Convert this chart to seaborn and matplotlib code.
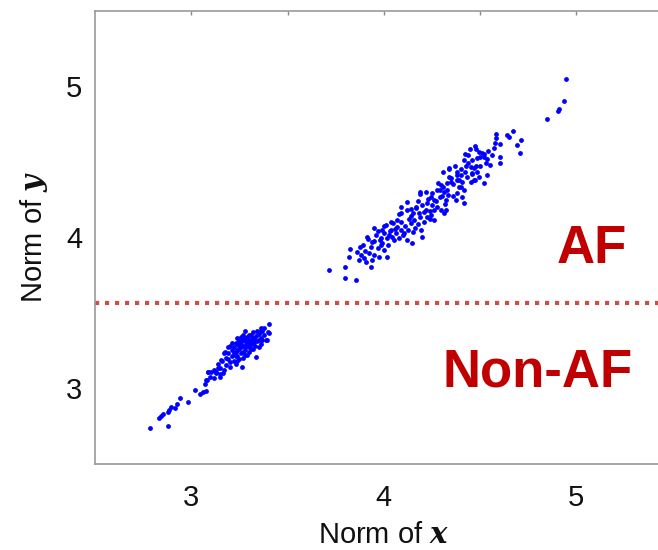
import matplotlib
matplotlib.use("Agg")
import matplotlib.pyplot as plt
import seaborn as sns
import pandas as pd

# Non-AF cluster (norm of x, norm of y)
non_af_x = [2.788, 2.881, 2.834, 2.845, 2.855, 2.881, 2.886, 2.896, 2.917, 2.927, 2.943, 2.984,
            3.021, 3.047, 3.062, 3.078, 3.073, 3.083, 3.088, 3.104, 3.087, 3.095, 3.116, 3.078,
            3.130, 3.147, 3.167, 3.138, 3.337, 3.264, 3.173, 3.155, 3.406, 3.363, 3.406, 3.392,
            3.13, 3.15, 3.14, 3.17, 3.16, 3.18, 3.19, 3.20, 3.21, 3.19, 3.22, 3.23, 3.22, 3.24,
            3.25, 3.24, 3.26, 3.27, 3.26, 3.28, 3.29, 3.28, 3.30, 3.31, 3.30, 3.32, 3.33, 3.32,
            3.34, 3.35, 3.36, 3.37, 3.38, 3.36, 3.39, 3.40, 3.25, 3.23, 3.27, 3.29, 3.31, 3.33,
            3.21, 3.20, 3.26, 3.28, 3.30, 3.24, 3.26, 3.27, 3.29, 3.25, 3.28, 3.31, 3.33, 3.34,
            3.23, 3.22, 3.30, 3.32, 3.35, 3.24, 3.27, 3.29, 3.31, 3.26, 3.28, 3.30, 3.25, 3.32,
            3.18, 3.17, 3.20, 3.35, 3.37, 3.27, 3.34, 3.38, 3.12, 3.15,
            3.21, 3.24, 3.28, 3.32, 3.36, 3.19, 3.23]
non_af_y = [2.735, 2.748, 2.801, 2.815, 2.828, 2.841, 2.854, 2.874, 2.868, 2.894, 2.934, 2.907,
            2.987, 2.960, 2.974, 2.980, 3.026, 3.053, 3.106, 3.106, 3.108, 3.075, 3.068, 3.053,
            3.108, 3.075, 3.097, 3.130, 3.207, 3.141, 3.240, 3.185, 3.422, 3.377, 3.362, 3.318,
            3.10, 3.13, 3.16, 3.12, 3.18, 3.15, 3.19, 3.14, 3.21, 3.23, 3.18, 3.24, 3.27, 3.21,
            3.26, 3.29, 3.23, 3.28, 3.31, 3.25, 3.30, 3.33, 3.27, 3.32, 3.35, 3.29, 3.34, 3.37,
            3.31, 3.36, 3.33, 3.38, 3.35, 3.40, 3.32, 3.37, 3.19, 3.30, 3.35, 3.22, 3.26, 3.28,
            3.25, 3.28, 3.34, 3.38, 3.30, 3.25, 3.27, 3.24, 3.28, 3.31, 3.31, 3.35, 3.31, 3.35,
            3.21, 3.23, 3.24, 3.33, 3.32, 3.33, 3.32, 3.34, 3.29, 3.29, 3.28, 3.32, 3.28, 3.30,
            3.20, 3.23, 3.17, 3.27, 3.32, 3.20, 3.38, 3.40, 3.12, 3.09,
            3.30, 3.18, 3.22, 3.26, 3.29, 3.27, 3.16]

# AF cluster (norm of x, norm of y)
af_x = [4.947, 4.935, 4.912, 4.907, 4.848, 4.671, 4.641, 4.649, 4.713, 4.693, 4.710,
        4.585, 4.585, 4.603, 4.572, 4.606, 4.606, 4.475, 4.447, 4.494, 4.511, 4.523,
        4.485, 4.537, 4.551, 4.534, 4.523, 4.416, 4.425, 4.451, 4.468, 4.459, 4.485,
        4.494, 4.451, 4.472, 4.382, 4.399, 4.378, 4.408, 4.390, 4.309, 4.338, 4.347,
        4.330, 4.416, 4.382, 4.408, 4.373, 4.416, 4.295, 4.278, 4.312, 4.292, 4.333,
        4.321, 4.188, 4.244, 4.261, 4.226, 4.252, 4.278, 4.295, 4.321, 4.312, 4.119,
        4.092, 4.140, 4.166, 4.183, 4.209, 4.188, 4.226, 4.244, 4.261, 4.157, 4.140,
        4.178, 4.195, 4.200, 4.092, 4.071, 4.088, 4.105, 4.062, 4.045, 4.080, 4.123,
        4.149, 4.154, 4.126, 4.010, 4.036, 4.002, 4.028, 3.993, 4.016, 4.053, 3.984,
        3.912, 3.950, 3.984, 3.933, 3.968, 4.002, 3.924, 3.950, 4.019, 3.898, 3.941,
        3.976, 3.933, 3.907, 3.824, 3.820, 3.877, 3.881, 3.798, 3.798, 3.855, 3.715,
        3.86, 3.89, 3.94, 3.96, 3.99, 4.03, 4.05, 4.07, 4.11, 4.13, 4.15, 4.17, 4.20,
        4.22, 4.23, 4.25, 4.27, 4.29, 4.31, 4.33, 4.35, 4.36, 4.38, 4.40, 4.42, 4.43,
        4.44, 4.46, 4.48, 4.50, 4.52, 4.54, 4.56, 4.58, 4.48, 4.44, 4.37, 4.34, 4.28,
        4.22, 4.18, 4.12, 4.08, 4.04, 4.00, 3.97, 3.92, 4.10, 4.16, 4.21, 4.26, 4.32,
        4.36, 4.40, 4.46, 4.50, 4.53, 4.39, 4.30, 4.24, 4.14, 4.06, 3.98, 3.90, 3.87,
        4.09, 4.19, 4.34, 4.42, 4.02, 4.24, 4.47, 3.95]
af_y = [5.046, 4.903, 4.846, 4.836, 4.779, 4.702, 4.675, 4.660, 4.642, 4.609, 4.554,
        4.680, 4.658, 4.613, 4.591, 4.532, 4.488, 4.605, 4.581, 4.565, 4.554, 4.528,
        4.521, 4.514, 4.477, 4.411, 4.360, 4.510, 4.472, 4.466, 4.455, 4.422, 4.433,
        4.400, 4.367, 4.377, 4.433, 4.411, 4.377, 4.367, 4.333, 4.433, 4.400, 4.367,
        4.355, 4.311, 4.289, 4.267, 4.245, 4.223, 4.344, 4.311, 4.300, 4.267, 4.278,
        4.245, 4.285, 4.267, 4.245, 4.223, 4.212, 4.201, 4.179, 4.179, 4.157, 4.229,
        4.157, 4.183, 4.201, 4.157, 4.168, 4.131, 4.135, 4.146, 4.113, 4.113, 4.091,
        4.086, 4.046, 4.002, 4.102, 4.068, 4.046, 4.024, 4.024, 4.002, 3.991, 3.980,
        3.962, 4.035, 4.046, 4.079, 4.046, 4.024, 4.013, 4.046, 3.991, 3.980, 3.991,
        3.998, 3.975, 3.947, 3.936, 3.925, 3.914, 3.892, 3.881, 3.870, 3.859, 3.848,
        3.870, 3.804, 3.837, 3.919, 3.866, 3.932, 3.881, 3.803, 3.731, 3.715, 3.781,
        3.90, 3.95, 3.97, 4.01, 3.96, 4.04, 4.09, 4.11, 4.07, 4.12, 4.16, 4.19, 4.21,
        4.18, 4.25, 4.29, 4.24, 4.31, 4.33, 4.31, 4.39, 4.35, 4.41, 4.45, 4.43, 4.40,
        4.49, 4.51, 4.47, 4.53, 4.55, 4.57, 4.54, 4.62, 4.58, 4.54, 4.47, 4.45, 4.36,
        4.30, 4.24, 4.18, 4.15, 4.10, 4.07, 4.04, 3.99, 4.01, 4.06, 4.10, 4.18, 4.22,
        4.27, 4.33, 4.42, 4.47, 4.49, 4.38, 4.27, 4.17, 4.14, 4.05, 3.98, 3.91, 3.85,
        4.20, 4.30, 4.46, 4.55, 3.95, 4.12, 4.38, 4.06]

threshold = 3.565
ticks = [3, 3.5, 4, 4.5, 5]
tick_labels = ["3", "", "4", "", "5"]

sns.set_style("white")
plt.rcParams["font.family"] = ["Liberation Sans", "DejaVu Sans"]
plt.rcParams["mathtext.fontset"] = "custom"
plt.rcParams["mathtext.it"] = "DejaVu Serif:italic:bold"

df = pd.DataFrame({
    "nx": non_af_x + af_x,
    "ny": non_af_y + af_y,
})

fig = plt.figure(figsize=(6.58, 5.50), dpi=100)
ax = fig.add_axes([95 / 658, 86.5 / 550, 577.5 / 658, 453 / 550])

sns.scatterplot(data=df, x="nx", y="ny", ax=ax, color="#0000FF", s=12,
                linewidth=0, legend=False)

ax.axhline(threshold, color="#C8504A", lw=3, linestyle=(0, (1, 1.4)),
           dash_capstyle="butt")

ax.text(5.08, 3.828, "AF", color="#C00000", fontsize=38, fontweight="bold",
        ha="center", va="baseline")
ax.text(4.798, 3.007, "Non-AF", color="#C00000", fontsize=38, fontweight="bold",
        ha="center", va="baseline")

ax.set_xlim(2.5, 5.5)
ax.set_ylim(2.5, 5.5)
ax.set_xticks(ticks)
ax.set_xticklabels(tick_labels)
ax.set_yticks(ticks)
ax.set_yticklabels(tick_labels)
ax.tick_params(axis="x", direction="in", length=3, width=1, color="#888888",
               labelsize=21, pad=15, top=True, labelcolor="#111111")
ax.tick_params(axis="y", direction="in", length=3, width=1, color="#888888",
               labelsize=21, pad=9, right=True, labelcolor="#111111")

for side in ["left", "bottom", "top", "right"]:
    ax.spines[side].set_color("#999999")
    ax.spines[side].set_linewidth(1.2)

ax.set_xlabel(r"Norm of $x$", fontsize=21, labelpad=6, color="#111111")
ax.set_ylabel(r"Norm of $y$", fontsize=21, labelpad=12, color="#111111")

fig.savefig("out.png", dpi=100)
